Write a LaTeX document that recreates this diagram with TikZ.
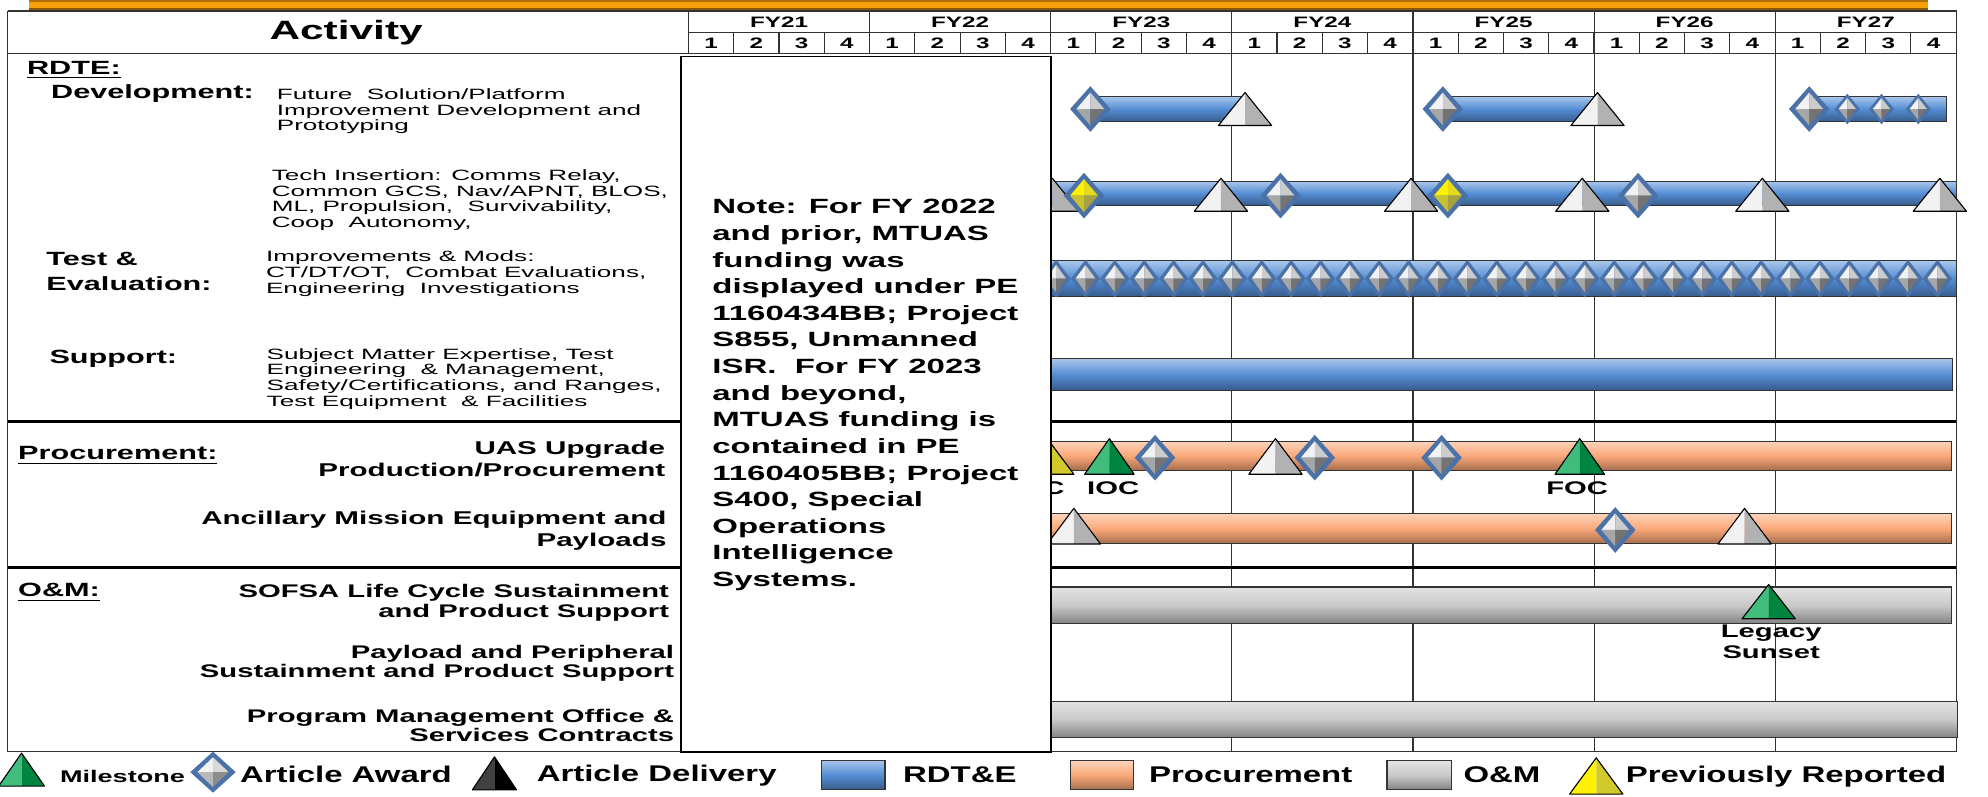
\documentclass[tikz,border=0pt]{standalone}
\usepackage{fontspec}
\usepackage{xcolor}
\usepackage{tikz}
\newfontfamily\chartfont[FakeStretch=1.6]{Liberation Sans}
\newfontfamily\descfont[FakeStretch=1.75]{Liberation Sans}
\newfontfamily\legfont[FakeStretch=1.45]{Liberation Sans}

\definecolor{rdte}{RGB}{84,141,212}
\definecolor{proc}{RGB}{250,168,120}
\definecolor{om}{RGB}{200,200,200}
\definecolor{awd}{RGB}{74,114,168}
\definecolor{mgreen}{RGB}{0,166,81}
\definecolor{bandor}{RGB}{245,160,10}
\colorlet{silverlt}{black!5}
\colorlet{silverdk}{black!55}
\colorlet{yellowlt}{yellow}
\colorlet{yellowdk}{yellow!60!black}

\begin{document}
\begin{tikzpicture}[x=0.02cm, y=-0.02cm,
    grid/.style={draw=black!80, line width=0.5pt},
    sep/.style={draw=black, line width=1.6pt},
    bar/.style={draw=black!80, line width=0.5pt, top color=#1!50!white, bottom color=#1!65!black, middle color=#1},
    hdr/.style={inner sep=0pt, font=\chartfont\bfseries\fontsize{6.8}{8}\selectfont},
    lbl/.style={inner sep=0pt, anchor=base west, font=\chartfont\bfseries\fontsize{8.6}{11.4}\selectfont},
    desc/.style={inner sep=0pt, anchor=north west, align=left, font=\descfont\fontsize{6.7}{7.1}\selectfont},
    item/.style={inner sep=0pt, anchor=north east, align=right, font=\chartfont\bfseries\fontsize{8.3}{9.7}\selectfont},
    mlbl/.style={inner sep=0pt, font=\chartfont\bfseries\fontsize{8.2}{9.4}\selectfont},
    leg/.style={inner sep=0pt, anchor=base west, font=\legfont\bfseries\fontsize{10.2}{12}\selectfont},
    pics/tri/.style 2 args={code={
        \fill[#1] (0,-13) -- (-21,13) -- (0,13) -- cycle;
        \fill[#2] (0,-13) -- (21,13) -- (0,13) -- cycle;
        \draw[black, line width=0.5pt, line join=round] (0,-13) -- (-21,13) -- (21,13) -- cycle;
    }},
    pics/dia/.style 2 args={code={
        \fill[awd] (0,-18) -- (16,0) -- (0,18) -- (-16,0) -- cycle;
        \fill[#1] (0,-13) -- (-11,0) -- (0,0) -- cycle;
        \fill[#1!70!#2] (0,-13) -- (11,0) -- (0,0) -- cycle;
        \fill[#1!40!#2] (-11,0) -- (0,13) -- (0,0) -- cycle;
        \fill[#2] (11,0) -- (0,13) -- (0,0) -- cycle;
    }}
]
\useasboundingbox (0,0) rectangle (1568,628);

% top band
\fill[bandor] (23,0) rectangle (1521,8.5);
\fill[bandor!70!black] (23,0) rectangle (1521,1.5);
\fill[bandor!55!black] (23,6.5) rectangle (1521,8.5);

% header
\draw[grid] (6,8.7) -- (1543,8.7) -- (1543,593);
\draw[grid] (6,8.7) -- (6,593) -- (537,593);
\draw[grid] (6,42) -- (1543,42);
\draw[grid] (543,25.5) -- (1543,25.5);
\foreach \k in {0,...,7}
    \draw[grid] ({543+142.86*\k},8.7) -- ({543+142.86*\k},42);
\foreach \q in {0,...,27}
    \draw[grid] ({543+35.71*\q},25.5) -- ({543+35.71*\q},42);
\node[inner sep=0pt, font=\chartfont\bfseries\fontsize{11.9}{14}\selectfont] (act) at (273,26) {Activity};
\foreach \y [count=\k from 0] in {21,...,27}
    \node[hdr] (fy\y) at ({543+142.86*(\k+0.5)},17.5) {FY\y};
\foreach \q in {0,...,27}{
    \pgfmathtruncatemacro\qn{mod(\q,4)+1}
    \node[hdr] (q\q) at ({543+35.71*(\q+0.5)},34) {\qn};
}

% chart grid
\foreach \k in {3,...,7}
    \draw[grid] ({543+142.86*\k},42) -- ({543+142.86*\k},593);
\draw[grid] (829,593) -- (1543,593);
\draw[sep] (6,332.5) -- (1543,332.5);
\draw[sep] (6,447.5) -- (1543,447.5);

% RDT&E bars
\draw[bar=rdte] (860,76) rectangle (980,96);
\draw[bar=rdte] (1138,76) rectangle (1258,96);
\draw[bar=rdte] (1427,76) rectangle (1535,96);
\draw[bar=rdte] (829,143) rectangle (1543,162);
\draw[bar=rdte] (829,205.6) rectangle (1543,234);
\draw[bar=rdte] (829,283) rectangle (1540,308);
\pic at (860,86) {dia={silverlt}{silverdk}};
\pic at (982,86) {tri={black!5}{black!30}};
\pic at (1138,86) {dia={silverlt}{silverdk}};
\pic at (1260,86) {tri={black!5}{black!30}};
\pic at (1427,86) {dia={silverlt}{silverdk}};
\foreach \x in {1457,1484,1513}
    \pic[xscale=0.62, yscale=0.67] at (\x,86) {dia={silverlt}{silverdk}};
\foreach \x in {830,963,1113,1248,1390,1530}
    \pic at (\x,153.6) {tri={black!5}{black!30}};
\foreach \x in {1010,1292}
    \pic at (\x,154.3) {dia={silverlt}{silverdk}};
\foreach \x in {855,1142}
    \pic at (\x,154.3) {dia={yellowlt}{yellowdk}};
\foreach \i in {0,...,30}
    \pic[xscale=0.72, yscale=0.83] at ({833+23.17*\i},219.8) {dia={silverlt}{silverdk}};

% procurement bars
\draw[bar=proc] (829,348) rectangle (1539,371);
\draw[bar=proc] (829,405) rectangle (1539,429);
\pic[yscale=1.08] at (826,360) {tri={yellow}{yellow!80!black}};
\pic[xscale=0.93, yscale=1.08] at (875,360) {tri={mgreen!75!white}{mgreen!80!black}};
\pic[yscale=1.08] at (1006,360) {tri={black!5}{black!30}};
\pic[xscale=0.93, yscale=1.08] at (1246,360) {tri={mgreen!75!white}{mgreen!80!black}};
\foreach \x in {911,1037,1137}
    \pic at (\x,361) {dia={silverlt}{silverdk}};
\node[mlbl] (ioc0) at (819,385) {IOC};
\node[mlbl] (ioc) at (878,385) {IOC};
\node[mlbl] (foc) at (1244,385) {FOC};
\pic[yscale=1.08] at (847,415) {tri={black!5}{black!30}};
\pic at (1274,418) {dia={silverlt}{silverdk}};
\pic[yscale=1.08] at (1376,415) {tri={black!5}{black!30}};

% O&M bars
\draw[bar=om] (829,463) rectangle (1539,492);
\draw[bar=om] (829,553) rectangle (1544,582);
\pic[yscale=1.04] at (1395,474.5) {tri={mgreen!75!white}{mgreen!80!black}};
\node[mlbl, anchor=north, align=center] (sunset) at (1397,492.3) {Legacy\\Sunset};

% note box
\draw[fill=white, draw=black, line width=0.7pt] (537,44.5) rectangle (829,593);
\node[inner sep=0pt, anchor=north west, align=left, font=\chartfont\bfseries\fontsize{9.25}{11.95}\selectfont] (note) at (561.5,157) {Note: For FY 2022\\and prior, MTUAS\\funding was\\displayed under PE\\1160434BB; Project\\S855, Unmanned\\ISR.\ \ For FY 2023\\and beyond,\\MTUAS funding is\\contained in PE\\1160405BB; Project\\S400, Special\\Operations\\Intelligence\\Systems.};

% activity column
\node[lbl] (rdte) at (21,59) {\underline{RDTE:}};
\node[lbl] (dev) at (40,77.5) {Development:};
\node[desc] (devd) at (218,69.4) {Future\ \ Solution/Platform\\Improvement Development and\\Prototyping};
\node[desc] (tech) at (214,133.3) {Tech Insertion: Comms Relay,\\Common GCS, Nav/APNT, BLOS,\\ML, Propulsion,\ \ Survivability,\\Coop\ \ Autonomy,};
\node[lbl, anchor=north west, align=left] (te) at (36.3,198.4) {Test \&\\Evaluation:};
\node[desc] (ted) at (209.5,197.4) {Improvements \& Mods:\\CT/DT/OT,\ \ Combat Evaluations,\\Engineering\ \ Investigations};
\node[lbl] (sup) at (38.7,287) {Support:};
\node[desc] (supd) at (210,274.4) {Subject Matter Expertise, Test\\Engineering\ \ \& Management,\\Safety/Certifications, and Ranges,\\Test Equipment\ \ \& Facilities};
\node[lbl] (proc) at (14,362.8) {\underline{Procurement:}};
\node[item] (uas) at (525,347.7) {UAS Upgrade\\Production/Procurement};
\node[item] (anc) at (526,402.7) {Ancillary Mission Equipment and\\Payloads};
\node[lbl] (om) at (14,470.6) {\underline{O\&M:}};
\node[item, font=\chartfont\bfseries\fontsize{8.2}{8.6}\selectfont] (sofsa) at (528,460.8) {SOFSA Life Cycle Sustainment\\and Product Support};
\node[item, font=\chartfont\bfseries\fontsize{8.2}{8.6}\selectfont] (pay) at (532,508.8) {Payload and Peripheral\\Sustainment and Product Support};
\node[item, font=\chartfont\bfseries\fontsize{8.2}{8.6}\selectfont] (pmo) at (532,559.2) {Program Management Office \&\\Services Contracts};

% legend
\pic[xscale=0.86] at (17,607) {tri={mgreen!75!white}{mgreen!80!black}};
\node[leg, font=\chartfont\bfseries\fontsize{7.6}{9}\selectfont] (lms) at (47,617) {Milestone};
\pic[xscale=1.12, yscale=0.9] at (168,609) {dia={silverlt}{black!45}};
\node[leg] (law) at (189,617.5) {Article Award};
\pic[xscale=0.83] at (390,610) {tri={black!75}{black}};
\node[leg] (ldl) at (423,616) {Article Delivery};
\draw[bar=rdte] (648,599.5) rectangle (698,623);
\node[leg] (lrd) at (712,617.5) {RDT\&E};
\draw[bar=proc] (844,600) rectangle (894,623);
\node[leg] (lpr) at (906,617.5) {Procurement};
\draw[bar=om] (1094,600) rectangle (1145,623);
\node[leg] (lom) at (1154,617.5) {O\&M};
\pic[yscale=1.1] at (1259,612) {tri={yellow}{yellow!80!black}};
\node[leg] (lpv) at (1282,617.5) {Previously Reported};
\end{tikzpicture}
\end{document}
